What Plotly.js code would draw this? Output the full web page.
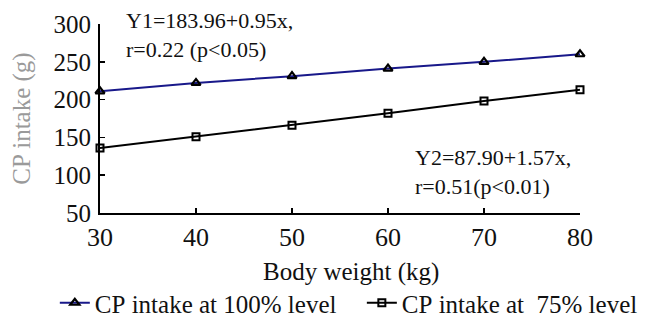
<!DOCTYPE html>
<html>
<head>
<meta charset="utf-8">
<script src="https://cdn.plot.ly/plotly-3.0.1.min.js"></script>
<style>html,body{margin:0;padding:0;background:#fff;}#chart{width:645px;height:322px;}</style>
</head>
<body>
<div id="chart"></div>
<script>
// Data
var bodyWeight = [30, 40, 50, 60, 70, 80];
var cpIntake100 = [211, 222, 231, 241, 250, 260];
var cpIntake75 = [136, 151, 166, 182, 198, 213];
var seriesNames = ['CP intake at 100% level', 'CP intake at  75% level'];
var xTicks = [30, 40, 50, 60, 70, 80];
var yTicks = [50, 100, 150, 200, 250, 300];
var xTitle = 'Body weight (kg)';
var yTitle = 'CP intake (g)';
var eqLabels = ['Y1=183.96+0.95x,', 'r=0.22 (p<0.05)', 'Y2=87.90+1.57x,', 'r=0.51(p<0.01)'];

var font = '"Liberation Serif", "Times New Roman", Times, serif';

function f(size, color) {
  return {family: font, size: size, color: color || '#111'};
}

var traces = [
  {
    x: bodyWeight, y: cpIntake100, name: seriesNames[0].replace(/ /g, '\u00a0'),
    type: 'scatter', mode: 'lines+markers', legend: 'legend',
    line: {color: '#18188a', width: 2},
    marker: {symbol: 'triangle-up-open', size: 8, color: '#000', line: {width: 2.2, color: '#000'}},
    cliponaxis: false
  },
  {
    x: bodyWeight, y: cpIntake75, name: seriesNames[1].replace(/ /g, '\u00a0'),
    type: 'scatter', mode: 'lines+markers', legend: 'legend2',
    line: {color: '#000', width: 2},
    marker: {symbol: 'square-open', size: 7, color: '#000', line: {width: 2, color: '#000'}},
    cliponaxis: false
  }
];

var legendBase = {
  orientation: 'h', xref: 'container', yref: 'container',
  xanchor: 'left', y: 0.059, yanchor: 'middle',
  font: f(25), itemwidth: 30, bgcolor: 'rgba(0,0,0,0)'
};

var layout = {
  width: 645, height: 322,
  margin: {l: 100, r: 65, t: 24, b: 109},
  paper_bgcolor: '#fff', plot_bgcolor: '#fff',
  font: f(24),
  showlegend: true,
  legend: Object.assign({}, legendBase, {x: 0.085}),
  legend2: Object.assign({}, legendBase, {x: 0.561}),
  xaxis: {
    range: [30, 80], tickvals: xTicks, ticktext: xTicks.map(String),
    showgrid: false, zeroline: false, showline: true, linecolor: '#000', linewidth: 2,
    ticks: 'inside', ticklen: 5, tickwidth: 1.5, tickcolor: '#000',
    ticklabelstandoff: 0,
    tickfont: f(26),
    automargin: false
  },
  yaxis: {
    range: [50, 300], tickvals: yTicks, ticktext: yTicks.map(String),
    showgrid: false, zeroline: false, showline: true, linecolor: '#000', linewidth: 2,
    ticks: 'inside', ticklen: 5, tickwidth: 1.5, tickcolor: '#000',
    ticklabelstandoff: 2,
    tickfont: f(25),
    title: {text: yTitle, font: f(25, '#9a9a9a'), standoff: 16},
    automargin: false
  },
  annotations: [
    {xref: 'paper', yref: 'paper', x: 0.523, y: -0.312, xanchor: 'center', yanchor: 'middle',
     text: xTitle, showarrow: false, font: f(25)},
    {xref: 'paper', yref: 'paper', x: 0.05, y: 1.095, xanchor: 'left', yanchor: 'top', align: 'left',
     text: eqLabels[0] + '<br>' + eqLabels[1].replace('<', '&lt;'), showarrow: false, font: f(22)},
    {xref: 'paper', yref: 'paper', x: 0.652, y: 0.37, xanchor: 'left', yanchor: 'top', align: 'left',
     text: eqLabels[2] + '<br>' + eqLabels[3].replace('<', '&lt;'), showarrow: false, font: f(22)}
  ]
};

Plotly.newPlot('chart', traces, layout, {displayModeBar: false, staticPlot: true});
</script>
</body>
</html>
